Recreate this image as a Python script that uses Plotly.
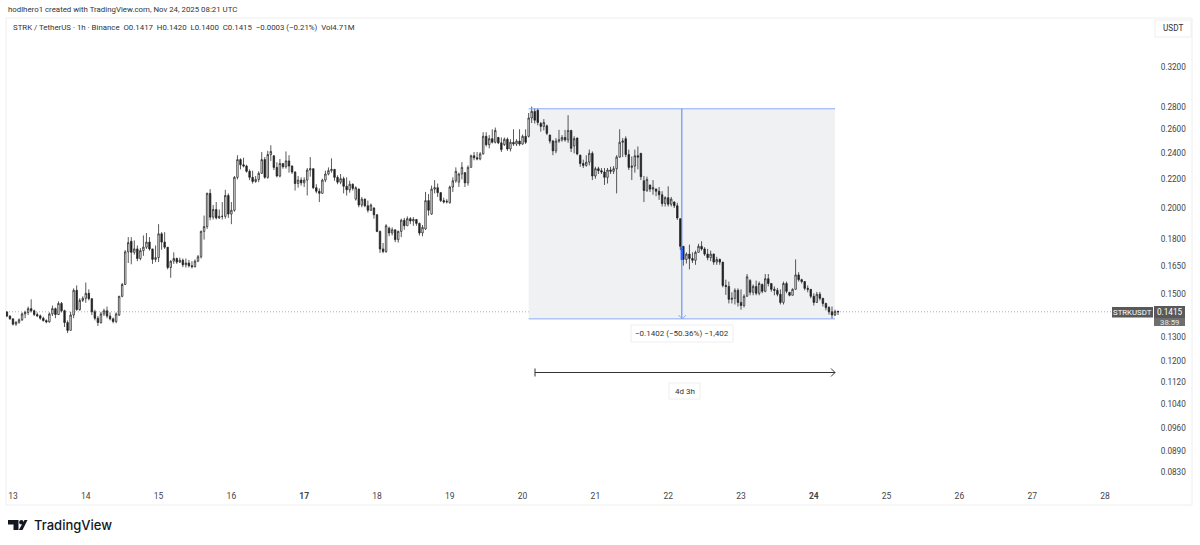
import pandas as pd
import plotly.graph_objects as go

# hourly STRK/USDT candles
first_bar = "2025-11-12 22:00"

opens = [
    .1414, .1395, .1382, .1358, .1366, .1378, .1405, .1412, .1430, .1420, .1402, .1396, .1385, .1374, .1368, .1405,
    .1430, .1402, .1455, .1420, .1365, .1330, .1400, .1520, .1425, .1470, .1480, .1505, .1478, .1415, .1385, .1365,
    .1405, .1420, .1395, .1382, .1370, .1400, .1490, .1550, .1728, .1790, .1725, .1745, .1690, .1735, .1755, .1785,
    .1745, .1685, .1695, .1835, .1785, .1755, .1640, .1675, .1690, .1670, .1680, .1655, .1665, .1650, .1645, .1675,
    .1700, .1850, .1880, .2100, .1940, .1990, .1935, .1945, .1945, .2085, .1960, .1985, .2215, .2350, .2310, .2300,
    .2260, .2215, .2185, .2200, .2245, .2350, .2215, .2390, .2380, .2290, .2225, .2320, .2295, .2340, .2300, .2255,
    .2170, .2195, .2175, .2195, .2270, .2280, .2140, .2115, .2100, .2195, .2240, .2265, .2275, .2215, .2180, .2205,
    .2150, .2125, .2165, .2060, .2130, .2020, .2060, .2015, .1985, .2000, .1955, .1850, .1745, .1730, .1870, .1840,
    .1860, .1800, .1850, .1920, .1885, .1930, .1915, .1925, .1900, .1840, .1865, .2050, .1960, .2130, .2140, .2105,
    .2050, .2040, .2035, .2145, .2190, .2180, .2240, .2250, .2175, .2290, .2380, .2365, .2355, .2395, .2540, .2470,
    .2520, .2490, .2530, .2485, .2470, .2515, .2435, .2490, .2475, .2500, .2475, .2540, .2540, .2700, .2760, .2770,
    .2650, .2625, .2630, .2550, .2500, .2420, .2500, .2510, .2530, .2510, .2590, .2460, .2525, .2385, .2320, .2305,
    .2330, .2400, .2225, .2280, .2265, .2255, .2215, .2270, .2260, .2280, .2370, .2490, .2520, .2390, .2290, .2300,
    .2380, .2400, .2190, .2120, .2160, .2130, .2130, .2115, .2090, .2030, .2070, .2025, .2040, .2015, .1930, .1760,
    .1685, .1715, .1690, .1680, .1725, .1760, .1745, .1715, .1695, .1715, .1670, .1685, .1670, .1545, .1540, .1475,
    .1480, .1520, .1460, .1445, .1490, .1570, .1510, .1540, .1505, .1550, .1515, .1580, .1555, .1525, .1520, .1500,
    .1460, .1555, .1510, .1495, .1525, .1600, .1575, .1565, .1530, .1525, .1490, .1460, .1500, .1480, .1455, .1435,
    .1415, .1400, .1417,
]
highs = [
    .1418, .1398, .1384, .1372, .1384, .1412, .1420, .1440, .1475, .1425, .1412, .1402, .1392, .1380, .1412, .1445,
    .1435, .1465, .1462, .1425, .1375, .1415, .1530, .1545, .1480, .1490, .1560, .1525, .1480, .1425, .1395, .1415,
    .1430, .1440, .1412, .1388, .1412, .1492, .1558, .1738, .1815, .1815, .1795, .1765, .1750, .1825, .1840, .1815,
    .1745, .1765, .1895, .1845, .1845, .1755, .1680, .1725, .1695, .1695, .1690, .1690, .1682, .1675, .1685, .1710,
    .1855, .1950, .2105, .2130, .2020, .2040, .1990, .2040, .2125, .2100, .2040, .2225, .2385, .2360, .2365, .2310,
    .2275, .2265, .2225, .2260, .2410, .2370, .2420, .2465, .2385, .2330, .2355, .2320, .2415, .2385, .2305, .2260,
    .2225, .2215, .2215, .2285, .2370, .2280, .2165, .2135, .2205, .2265, .2290, .2360, .2275, .2230, .2240, .2220,
    .2215, .2190, .2170, .2150, .2135, .2075, .2065, .2050, .2030, .2005, .1960, .1855, .1780, .1895, .1880, .1875,
    .1860, .1855, .1930, .1935, .1945, .1940, .1940, .1928, .1905, .1890, .2110, .2095, .2155, .2195, .2170, .2110,
    .2070, .2060, .2155, .2215, .2290, .2250, .2330, .2255, .2305, .2390, .2410, .2410, .2410, .2575, .2575, .2550,
    .2600, .2615, .2535, .2530, .2530, .2530, .2515, .2600, .2515, .2600, .2555, .2600, .2745, .2805, .2790, .2790,
    .2665, .2690, .2640, .2555, .2510, .2525, .2595, .2550, .2595, .2725, .2595, .2540, .2530, .2390, .2350, .2385,
    .2430, .2415, .2295, .2295, .2285, .2285, .2285, .2295, .2300, .2385, .2600, .2525, .2540, .2430, .2375, .2430,
    .2455, .2400, .2225, .2220, .2160, .2195, .2135, .2145, .2115, .2080, .2150, .2075, .2045, .2035, .1930, .1760,
    .1725, .1770, .1725, .1735, .1775, .1790, .1755, .1745, .1735, .1718, .1700, .1690, .1670, .1575, .1565, .1510,
    .1530, .1530, .1525, .1500, .1605, .1578, .1550, .1570, .1565, .1555, .1605, .1605, .1555, .1540, .1532, .1525,
    .1565, .1565, .1512, .1530, .1685, .1615, .1580, .1565, .1545, .1525, .1505, .1512, .1512, .1482, .1458, .1442,
    .1440, .1425, .1420,
]
lows = [
    .1390, .1378, .1352, .1350, .1360, .1372, .1385, .1400, .1412, .1395, .1390, .1378, .1370, .1362, .1365, .1395,
    .1385, .1400, .1412, .1345, .1318, .1330, .1385, .1420, .1420, .1462, .1458, .1470, .1400, .1375, .1350, .1360,
    .1395, .1385, .1375, .1362, .1362, .1395, .1485, .1548, .1665, .1658, .1712, .1675, .1680, .1705, .1745, .1735,
    .1660, .1670, .1670, .1740, .1745, .1630, .1585, .1660, .1660, .1665, .1642, .1640, .1640, .1635, .1640, .1670,
    .1690, .1800, .1865, .1920, .1925, .1925, .1928, .1925, .1930, .1935, .1895, .1975, .2200, .2275, .2290, .2250,
    .2195, .2170, .2175, .2180, .2240, .2205, .2205, .2340, .2270, .2215, .2215, .2280, .2280, .2250, .2240, .2120,
    .2140, .2155, .2145, .2085, .2220, .2130, .2100, .2040, .2100, .2180, .2230, .2250, .2190, .2165, .2165, .2100,
    .2085, .2105, .2120, .2050, .2005, .2005, .2005, .1970, .1980, .1930, .1845, .1722, .1720, .1722, .1820, .1825,
    .1785, .1782, .1815, .1860, .1885, .1895, .1885, .1885, .1825, .1820, .1860, .1950, .1955, .2100, .2075, .2040,
    .2030, .2030, .2030, .2110, .2175, .2145, .2200, .2145, .2155, .2290, .2345, .2345, .2345, .2390, .2455, .2440,
    .2480, .2480, .2475, .2410, .2460, .2420, .2415, .2460, .2460, .2460, .2470, .2475, .2530, .2655, .2650, .2635,
    .2580, .2590, .2550, .2480, .2385, .2400, .2485, .2495, .2495, .2485, .2410, .2400, .2385, .2295, .2285, .2295,
    .2305, .2195, .2205, .2240, .2240, .2160, .2170, .2240, .2240, .2100, .2365, .2370, .2370, .2270, .2195, .2250,
    .2275, .2195, .2040, .2110, .2110, .2090, .2080, .2055, .2010, .2010, .2010, .2010, .2000, .1922, .1738, .1650,
    .1662, .1630, .1665, .1655, .1725, .1735, .1705, .1680, .1675, .1655, .1655, .1655, .1535, .1497, .1455, .1455,
    .1450, .1440, .1425, .1435, .1490, .1495, .1495, .1495, .1495, .1505, .1510, .1540, .1513, .1495, .1490, .1450,
    .1450, .1505, .1490, .1495, .1525, .1565, .1555, .1520, .1510, .1480, .1445, .1458, .1470, .1440, .1422, .1402,
    .1382, .1395, .1400,
]
closes = [
    .1395, .1382, .1358, .1366, .1378, .1405, .1412, .1430, .1420, .1402, .1396, .1385, .1374, .1368, .1405, .1430,
    .1402, .1455, .1420, .1365, .1330, .1400, .1520, .1425, .1470, .1480, .1505, .1478, .1415, .1385, .1365, .1405,
    .1420, .1395, .1382, .1370, .1405, .1490, .1550, .1728, .1782, .1725, .1745, .1690, .1735, .1755, .1785, .1745,
    .1685, .1695, .1835, .1785, .1755, .1640, .1675, .1690, .1670, .1680, .1655, .1665, .1650, .1645, .1675, .1700,
    .1850, .1880, .2100, .1940, .1990, .1935, .1945, .1945, .2085, .1960, .1985, .2215, .2350, .2310, .2300, .2260,
    .2215, .2185, .2200, .2245, .2350, .2215, .2390, .2415, .2290, .2225, .2320, .2295, .2340, .2300, .2255, .2170,
    .2195, .2175, .2195, .2270, .2280, .2140, .2115, .2100, .2195, .2240, .2265, .2275, .2215, .2180, .2205, .2150,
    .2125, .2165, .2135, .2140, .2020, .2060, .2015, .1985, .2020, .1955, .1850, .1745, .1730, .1885, .1840, .1860,
    .1800, .1850, .1920, .1885, .1930, .1915, .1925, .1900, .1840, .1875, .2050, .1985, .2130, .2140, .2105, .2050,
    .2040, .2045, .2145, .2190, .2260, .2240, .2290, .2175, .2290, .2380, .2365, .2355, .2395, .2540, .2470, .2520,
    .2490, .2590, .2485, .2430, .2515, .2435, .2490, .2475, .2500, .2475, .2540, .2490, .2700, .2760, .2680, .2660,
    .2625, .2660, .2565, .2500, .2420, .2500, .2510, .2530, .2510, .2590, .2440, .2520, .2395, .2320, .2305, .2330,
    .2400, .2225, .2280, .2265, .2255, .2215, .2270, .2260, .2280, .2370, .2490, .2500, .2390, .2290, .2300, .2380,
    .2370, .2220, .2120, .2200, .2130, .2140, .2115, .2090, .2030, .2070, .2025, .2060, .2015, .1935, .1760, .1685,
    .1715, .1690, .1680, .1725, .1760, .1745, .1715, .1695, .1715, .1670, .1685, .1670, .1545, .1540, .1475, .1480,
    .1520, .1460, .1445, .1490, .1590, .1510, .1540, .1505, .1555, .1515, .1580, .1555, .1525, .1520, .1500, .1460,
    .1555, .1515, .1495, .1525, .1600, .1575, .1565, .1530, .1525, .1490, .1460, .1500, .1480, .1455, .1435, .1415,
    .1400, .1417, .1415,
]

price_ticks = [.32, .28, .26, .24, .22, .20, .18, .165, .15, .13, .12, .112, .104, .096, .089, .083]
day_ticks = ["2025-11-%02d" % d for d in range(13, 29)]
day_labels = [("<b>%d</b>" % d if d in (17, 24) else str(d)) for d in range(13, 29)]

last_price = 0.1415
measure_top = 0.2784
measure_bottom = 0.1382
measure_start = "2025-11-20 02:00"
measure_end = "2025-11-24 07:00"
measure_mid = "2025-11-22 04:30"
blue_top = 0.1755
blue_bottom = 0.1682

dates = pd.date_range(first_bar, periods=len(closes), freq="h")

# pixel position in the 1200x545 page -> paper coordinates
L, R, T, B = 6, 1150, 18, 487
def fx(px):
    return (px - L) / (R - L)
def fy(py):
    return (B - py) / (B - T)

INK = "#131722"
BLUE = "#2962ff"
PALE_BLUE = "#8dabf9"
FONT = "Roboto"

def seg(x0, y0, x1, y1, color=INK, width=1, dash="solid"):
    return dict(type="line", xref="paper", yref="paper", x0=fx(x0), y0=fy(y0), x1=fx(x1), y1=fy(y1),
                line=dict(color=color, width=width, dash=dash))

def label(px, py, text, size=8.2, color="#333333", anchor="left", **kw):
    return dict(xref="paper", yref="paper", x=fx(px), y=fy(py), text=text, showarrow=False,
                xanchor=anchor, yanchor="middle", font=dict(family=FONT, size=size, color=color),
                borderpad=0, **kw)

def box(x0, y0, x1, y1, fill, line="rgba(0,0,0,0)"):
    return dict(type="rect", xref="paper", yref="paper", x0=fx(x0), y0=fy(y0), x1=fx(x1), y1=fy(y1),
                fillcolor=fill, line=dict(color=line, width=1), layer="above")

fig = go.Figure(go.Candlestick(
    x=dates, open=opens, high=highs, low=lows, close=closes,
    increasing=dict(line=dict(color="#222222", width=0.75), fillcolor="#ffffff"),
    decreasing=dict(line=dict(color="#222222", width=0.75), fillcolor="#222222"),
    whiskerwidth=0, showlegend=False,
))

shapes = [
    # outer frame
    dict(type="rect", xref="paper", yref="paper", x0=0, y0=fy(505), x1=fx(1192), y1=fy(18),
         line=dict(color="#eeeeee", width=1), layer="below"),
    # measured drop
    dict(type="rect", xref="x", yref="y", x0=measure_start, x1=measure_end,
         y0=measure_bottom, y1=measure_top, fillcolor="#f0f1f3", line_width=0, layer="below"),
    dict(type="line", xref="x", yref="y", x0=measure_start, x1=measure_end,
         y0=measure_top, y1=measure_top, line=dict(color=PALE_BLUE, width=1)),
    dict(type="line", xref="x", yref="y", x0=measure_start, x1=measure_end,
         y0=measure_bottom, y1=measure_bottom, line=dict(color=PALE_BLUE, width=1)),
    dict(type="line", xref="x", yref="y", x0=measure_mid, x1=measure_mid,
         y0=measure_bottom, y1=measure_top, line=dict(color=BLUE, width=0.8)),
    dict(type="line", xref="x", yref="y", x0=measure_mid, x1=measure_mid,
         y0=blue_bottom, y1=blue_top, line=dict(color=BLUE, width=2.5)),
    seg(682.3, 319, 678.5, 315, PALE_BLUE),
    seg(682.3, 319, 686, 315, PALE_BLUE),
    # last price line
    dict(type="line", xref="paper", yref="y", x0=0, x1=fx(1112), y0=last_price, y1=last_price,
         line=dict(color="#8a8a8a", width=0.7, dash="1px,2px"), layer="below"),
    # date range tool
    seg(535, 372.5, 835, 372.5, "#333333"),
    seg(535, 368.5, 535, 376.5, "#333333"),
    seg(835, 372.5, 831, 368.5, "#333333"),
    seg(835, 372.5, 831, 376.5, "#333333"),
    # boxes
    box(1112, 307, 1153, 317.5, "#595959"),
    box(1154, 306, 1185, 318, "#595959"),
    box(1154, 318, 1185, 326, "#6e6e6e"),
    box(1155, 20, 1191, 37, "#ffffff", "#eeeeee"),
    box(631, 325, 733, 342, "#ffffff", "#eeeeee"),
    box(669, 383, 700, 399, "#ffffff", "#eeeeee"),
    # logo
    dict(type="path", xref="paper", yref="paper", fillcolor=INK, line_width=0,
         path="M %f %f L %f %f L %f %f L %f %f L %f %f L %f %f Z" % (
             fx(8), fy(520), fx(18.5), fy(520), fx(18.5), fy(530), fx(13.5), fy(530), fx(13.5), fy(524.5), fx(8), fy(524.5))),
    dict(type="circle", xref="paper", yref="paper", fillcolor=INK, line_width=0,
         x0=fx(19.2), x1=fx(23.6), y0=fy(524.5), y1=fy(520)),
    dict(type="path", xref="paper", yref="paper", fillcolor=INK, line_width=0,
         path="M %f %f L %f %f L %f %f L %f %f Z" % (
             fx(24.5), fy(520), fx(27.5), fy(520), fx(22.5), fy(530), fx(18.8), fy(530))),
]

annotations = [
    label(7, 9.5, "hodlhero1 created with TradingView.com, Nov 24, 2025 08:21 UTC", size=7.85),
    label(12, 27, "STRK / TetherUS · 1h · Binance&nbsp;&nbsp;O0.1417&nbsp;&nbsp;H0.1420&nbsp;&nbsp;L0.1400&nbsp;&nbsp;C0.1415&nbsp;&nbsp;−0.0003 (−0.21%)&nbsp;&nbsp;Vol4.71M", size=7.85),
    label(1173, 28.5, "USDT", anchor="center"),
    label(1132.5, 312.3, "STRKUSDT", size=7.8, color="#ffffff", anchor="center"),
    label(1169.5, 312.3, "0.1415", size=8.2, color="#ffffff", anchor="center"),
    label(1169.5, 322, "38:59", size=7.8, color="#e8e8e8", anchor="center"),
    label(682, 333.5, "−0.1402 (−50.36%) −1,402", size=8, anchor="center"),
    label(684.5, 391, "4d 3h", size=8, anchor="center"),
]
logo_text = label(32.5, 525, "TradingView", size=13, color=INK)
logo_text["font"]["family"] = "Inter"
logo_text["font"]["weight"] = 500
annotations.append(logo_text)

fig.update_layout(
    width=1200, height=545, autosize=False,
    margin=dict(l=L, r=1200 - R, t=T, b=545 - B, pad=0),
    paper_bgcolor="#ffffff", plot_bgcolor="#ffffff",
    shapes=shapes, annotations=annotations,
    font=dict(family=FONT, size=8.2, color="#333333"),
    xaxis=dict(
        type="date", rangeslider_visible=False,
        range=["2025-11-12 21:42", "2025-11-28 14:50"],
        tickmode="array", tickvals=day_ticks, ticktext=day_labels,
        tickangle=0, showgrid=False, zeroline=False, showline=False,
        ticks="outside", ticklen=1, tickcolor="rgba(0,0,0,0)",
        tickfont=dict(family=FONT, size=8.5, color="#444444"),
    ),
    yaxis=dict(
        type="log", side="right",
        range=[-1.1029, -0.4239],
        tickmode="array", tickvals=price_ticks, ticktext=["%.4f" % p for p in price_ticks],
        showgrid=False, zeroline=False, showline=False,
        ticks="outside", ticklen=8, tickcolor="rgba(0,0,0,0)",
        tickfont=dict(family=FONT, size=8.2, color="#444444"),
    ),
)

fig.write_html("out.html", config={"displayModeBar": False},
               post_script="document.body.style.margin='0';document.body.style.overflow='hidden';")
